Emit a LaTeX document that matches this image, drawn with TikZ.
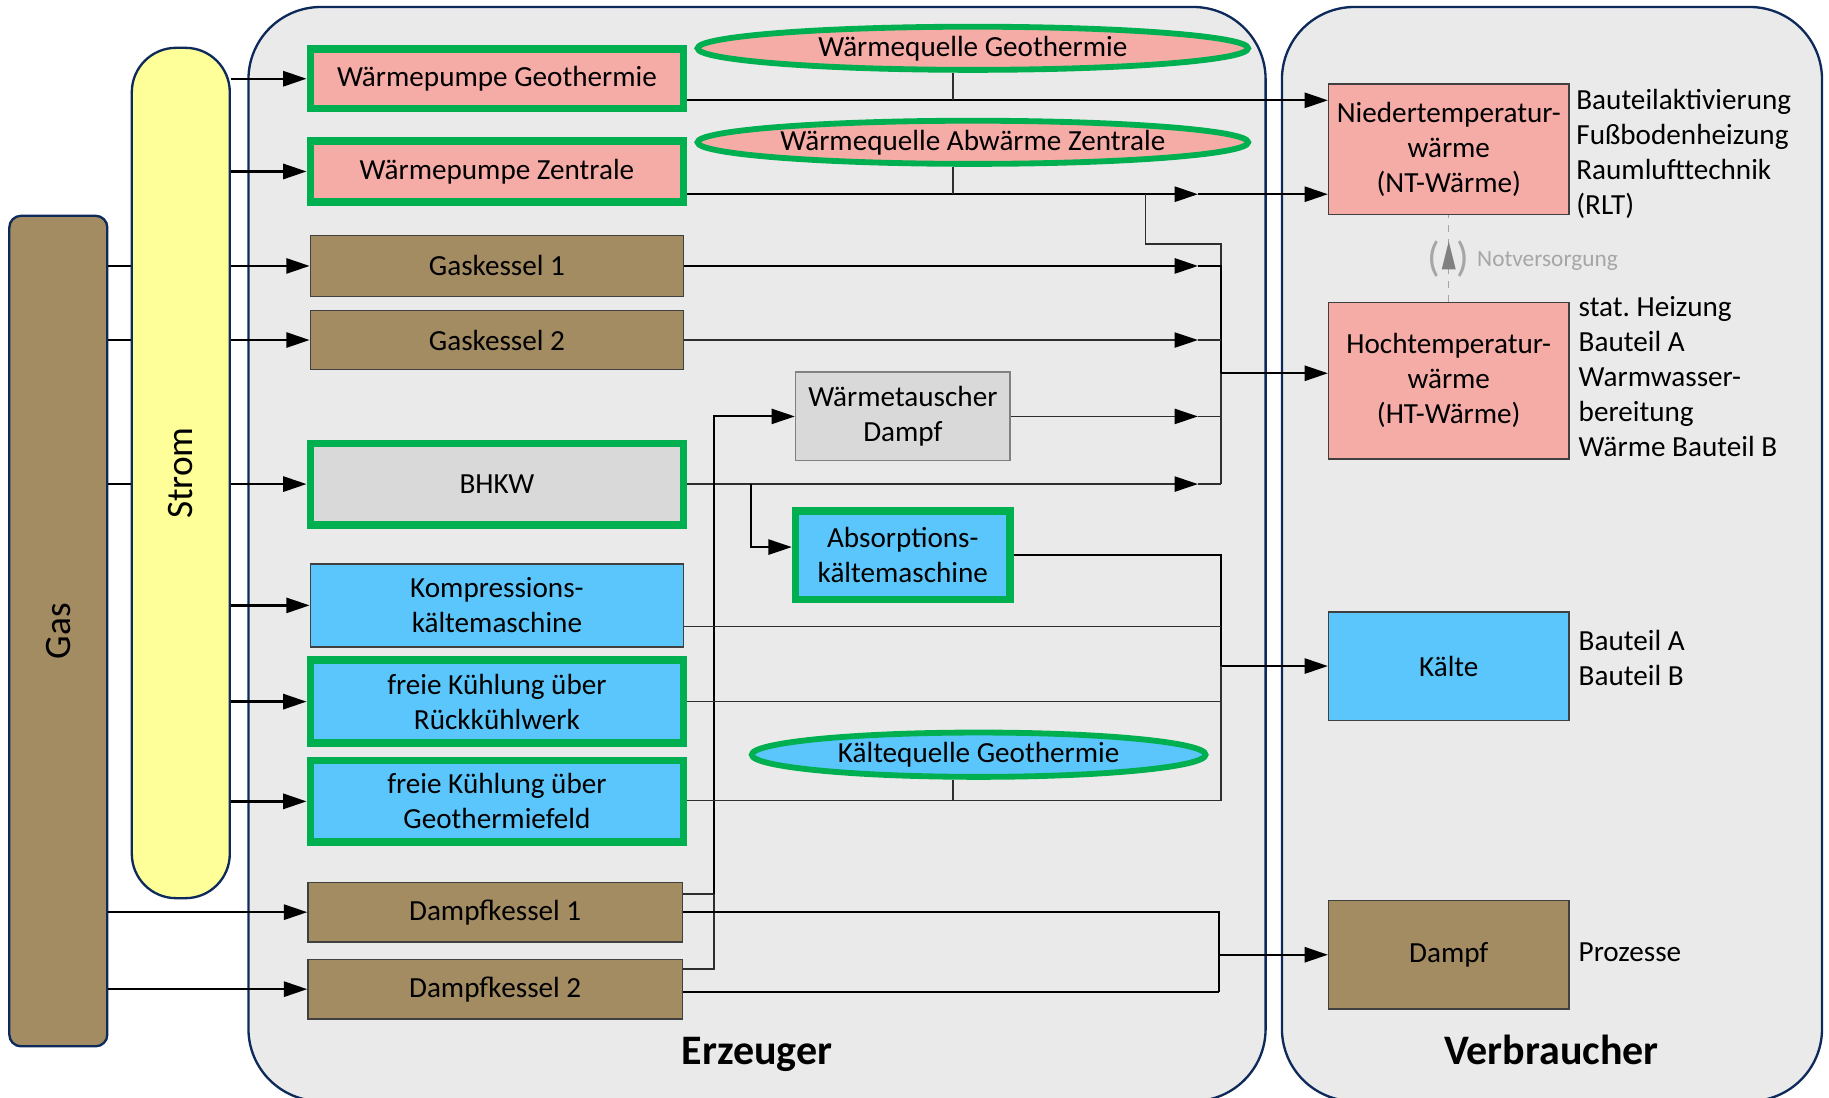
\documentclass[tikz,border=0pt]{standalone}
\usepackage{fontspec}
\setmainfont{Carlito}
\frenchspacing
\usetikzlibrary{arrows.meta,shapes.geometric,calc}
\definecolor{cNavy}{HTML}{0E2A5A}
\definecolor{cCont}{HTML}{EAEAEA}
\definecolor{cGrn}{HTML}{00B050}
\definecolor{cPink}{HTML}{F5ABA6}
\definecolor{cBrown}{HTML}{A38B62}
\definecolor{cGray}{HTML}{D9D9D9}
\definecolor{cBlue}{HTML}{5BC6FC}
\definecolor{cYel}{HTML}{FFFF99}
\definecolor{cEdge}{HTML}{404040}
\definecolor{cThin}{HTML}{2E2E2E}
\definecolor{cNot}{HTML}{A6A6A6}
\begin{document}
\begin{tikzpicture}[x=0.5pt,y=-0.5pt,
  every node/.style={font=\fontsize{12.5}{15}\selectfont},
  container/.style={fill=cCont, draw=cNavy, line width=1pt, rounded corners=31pt},
  bar/.style={draw=cNavy, line width=1pt, inner sep=0pt},
  box/.style={draw=cEdge, line width=0.6pt, inner sep=0pt, align=center},
  grnbox/.style={draw=cGrn, line width=3.2pt, inner sep=0pt, align=center},
  oval/.style={ellipse, draw=cGrn, line width=2.5pt, inner sep=0pt, align=center},
  sz/.style 2 args={minimum width=#1pt, minimum height=#2pt},
  lbl/.style={align=left, inner sep=0pt, anchor=west},
  thk/.style={line width=1pt, black},
  med/.style={line width=0.85pt, black},
  thn/.style={line width=0.7pt, cThin},
  arr/.style={-{Triangle[length=10pt,width=6.5pt,color=black]}}
]
\fill[white] (0,0) rectangle (1568,941);
\useasboundingbox (0,0) rectangle (1568,941);

% containers
\draw[container] (213,6) rectangle (1085,944);
\draw[container] (1099,6) rectangle (1562,944);
\node[font=\fontsize{18}{20}\selectfont\bfseries] (erz) at (649,904) {Erzeuger};
\node[font=\fontsize{18}{20}\selectfont\bfseries] (verb) at (1330,900) {Verbraucher};

% gas bar
\node[bar, fill=cBrown, sz={42}{356}, rounded corners=5pt] (gas) at (50,541) {};
\node[rotate=90, font=\fontsize{16}{18}\selectfont] (gaslbl) at (gas.center) {Gas};

% producers
\node[grnbox, fill=cPink, sz={160}{25.5}] (wpg) at (426,67.5) {Wärmepumpe Geothermie};
\node[grnbox, fill=cPink, sz={160}{26}] (wpz) at (426,147) {Wärmepumpe Zentrale};
\node[box, fill=cBrown, sz={160}{26}] (gk1) at (426,228) {Gaskessel 1};
\node[box, fill=cBrown, sz={160}{25.5}] (gk2) at (426,291.5) {Gaskessel 2};
\node[grnbox, fill=cGray, sz={160}{35}] (bhkw) at (426,415) {BHKW};
\node[box, fill=cBlue, sz={160}{35.5}] (kkm) at (426,519) {Kompressions-\\kältemaschine};
\node[grnbox, fill=cBlue, sz={160}{35.5}] (fkr) at (426,601.5) {freie Kühlung über\\Rückkühlwerk};
\node[grnbox, fill=cBlue, sz={160}{35}] (fkg) at (426,687) {freie Kühlung über\\Geothermiefeld};
\node[box, fill=cBrown, sz={160.5}{25.5}] (dk1) at (424.5,782) {Dampfkessel 1};
\node[box, fill=cBrown, sz={160.5}{25.5}] (dk2) at (424.5,848) {Dampfkessel 2};
\node[box, draw=gray, fill=cGray, sz={92}{38}] (wt) at (774,357) {Wärmetauscher\\Dampf};
\node[grnbox, fill=cBlue, sz={92}{38}] (akm) at (774,476) {Absorptions-\\kältemaschine};

% sources
\node[oval, fill=cPink, sz={236}{18.5}] (eWG) at (834,41.4) {Wärmequelle Geothermie};
\node[oval, fill=cPink, sz={236}{18.5}] (eWZ) at (834,122) {Wärmequelle Abwärme Zentrale};
\node[oval, fill=cBlue, sz={194.5}{19}] (eKG) at (839,647) {Kältequelle Geothermie};

% consumers
\node[box, fill=cPink, sz={103}{56}] (nt) at (1242,128) {Niedertemperatur-\\wärme\\(NT-Wärme)};
\node[box, fill=cPink, sz={103}{67}] (ht) at (1242,326.5) {Hochtemperatur-\\wärme\\(HT-Wärme)};
\node[box, fill=cBlue, sz={103}{46.5}] (kalte) at (1242,571) {Kälte};
\node[box, fill=cBrown, sz={103}{46.5}] (dampf) at (1242,818.5) {Dampf};

\node[lbl] (ntl) at (1351,132) {Bauteilaktivierung\\Fußbodenheizung\\Raumlufttechnik\\(RLT)};
\node[lbl] (htl) at (1353,323) {stat. Heizung\\Bauteil A\\Warmwasser-\\bereitung\\Wärme Bauteil B};
\node[lbl] (kal) at (1353,564) {Bauteil A\\Bauteil B};
\node[lbl] (dal) at (1353,816) {Prozesse};

% Notversorgung
\draw[dashed, cNot, line width=0.6pt] (ht.north) -- (nt.south);
\fill[gray] (1236,231) -- (1248,231) -- (1242,207) -- cycle;
\node[text=cNot, font=\fontsize{18}{20}\selectfont, inner sep=0pt] (par) at (1242,222) {(\hspace{7pt})};
\node[text=cNot, font=\fontsize{10}{12}\selectfont, anchor=west, inner sep=0pt] (notv) at (1266,224) {Notversorgung};

% coordinates
\coordinate (dropG) at (817,86);
\coordinate (tZ) at (1027,166.5);
\coordinate (dropZ) at (817,166.5);
\coordinate (brZ) at (982,166.5);
\coordinate (brZ2) at (982,209);
\coordinate (hbTop) at (1047,209);
\coordinate (tG1) at (1027,228);
\coordinate (hb1) at (1047,228);
\coordinate (tG2) at (1027,291.5);
\coordinate (hb2) at (1047,291.5);
\coordinate (hbOut) at (1047,320);
\coordinate (tW) at (1027,357);
\coordinate (hbW) at (1047,357);
\coordinate (tB) at (1027,415);
\coordinate (hbB) at (1047,415);
\coordinate (brB) at (644,415);
\coordinate (brB2) at (644,469);
\coordinate (dkA) at (612,766.5);
\coordinate (dkB) at (612,830.7);
\coordinate (dkT) at (612,357);
\coordinate (kb0) at (1047,475);
\coordinate (kbOut) at (1047,571);
\coordinate (kbK) at (1047,537);
\coordinate (kbR) at (1047,601.5);
\coordinate (kbG) at (1047,686.4);
\coordinate (dropK) at (817,686.4);
\coordinate (db1) at (1045,782);
\coordinate (dbOut) at (1045,818.5);
\coordinate (db2) at (1045,850.7);

% gas lines (behind Strom bar)
\draw[thk,arr] (gas.east |- gk1) -- (gk1.west);
\draw[thk,arr] (gas.east |- gk2) -- (gk2.west);
\draw[thk,arr] (gas.east |- bhkw) -- (bhkw.west);
\draw[thk,arr] (gas.east |- dk1) -- (dk1.west);
\draw[thk,arr] (gas.east |- dk2) -- (dk2.west);

% strom bar
\node[bar, fill=cYel, sz={42}{364.5}, rounded corners=19pt] (strom) at (155,405.5) {};
\node[rotate=90, font=\fontsize{16}{18}\selectfont] (stromlbl) at (strom.center) {Strom};
\draw[thk,arr] (strom.east |- wpg) -- (wpg.west);
\draw[thk,arr] (strom.east |- wpz) -- (wpz.west);
\draw[thk,arr] (strom.east |- kkm) -- (kkm.west);
\draw[thk,arr] (strom.east |- fkr) -- (fkr.west);
\draw[thk,arr] (strom.east |- fkg) -- (fkg.west);

% NT
\draw[thk,arr] (wpg.east |- dropG) -- (nt.west |- dropG);
\draw[thn] (eWG.south -| dropG) -- (dropG);
\draw[thk,arr] (wpz.east |- tZ) -- (tZ);
\draw[thk,arr] (tZ) -- (nt.west |- tZ);
\draw[thn] (eWZ.south -| dropZ) -- (dropZ);
\draw[thn] (brZ) -- (brZ2) -- (hbTop) -- (hb1);

% HT
\draw[thn] (hb1) -- (hbB);
\draw[thk,arr] (gk1.east |- tG1) -- (tG1);
\draw[thk] (tG1) -- (hb1) -- (hbOut);
\draw[thk,arr] (hbOut) -- (ht.west |- hbOut);
\draw[thn,arr] (gk2.east |- tG2) -- (tG2);
\draw[thn] (tG2) -- (hb2);
\draw[thn,arr] (wt.east) -- (tW);
\draw[thn] (tW) -- (hbW);
\draw[thn,arr] (bhkw.east |- tB) -- (tB);
\draw[thn] (tB) -- (hbB);
\draw[med,arr] (brB) -- (brB2) -- (akm.west |- brB2);

% steam to heat exchanger
\draw[thn] (dk1.east |- dkA) -- (dkA);
\draw[thn] (dk2.east |- dkB) -- (dkB) -- (dkA);
\draw[med,arr] (dkA) -- (dkT) -- (wt.west);

% Kaelte
\draw[thk] (akm.east) -- (akm.east -| kb0) -- (kbOut);
\draw[thk,arr] (kbOut) -- (kalte.west);
\draw[thn] (kkm.east |- kbK) -- (kbK);
\draw[thn] (fkr.east) -- (kbR);
\draw[thn] (fkg.east |- kbG) -- (kbG) -- (kbOut);
\draw[thn] (eKG.south -| dropK) -- (dropK);

% Dampf
\draw[thk] (dk1.east) -- (db1) -- (db2);
\draw[thk] (dk2.east |- db2) -- (db2);
\draw[thk,arr] (dbOut) -- (dampf.west);
\end{tikzpicture}
\end{document}
